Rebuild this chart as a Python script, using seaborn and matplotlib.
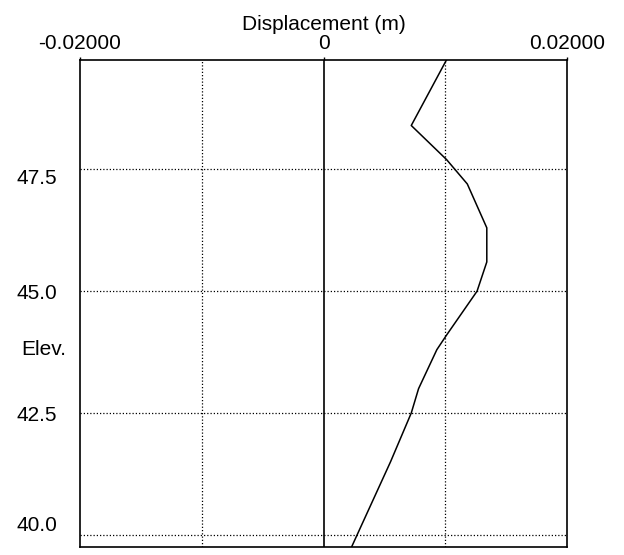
import matplotlib
matplotlib.use("Agg")
import matplotlib.pyplot as plt
import seaborn as sns
import pandas as pd

# displacement profile, top to bottom
elevation = [49.75, 48.4, 47.7, 47.2, 46.3, 45.6, 45.0, 44.1, 43.8, 43.0, 42.5, 41.5, 39.75]
displacement = [0.0101, 0.0072, 0.0101, 0.0118, 0.0134, 0.0134, 0.0126,
                0.0101, 0.0093, 0.0078, 0.0072, 0.0055, 0.0023]

x_ticks = [-0.02, 0.0, 0.02]
x_tick_labels = ["-0.02000", "0", "0.02000"]
x_grid = [-0.01, 0.01]
y_ticks = [40.0, 42.5, 45.0, 47.5]
y_tick_labels = ["40.0", "42.5", "45.0", "47.5"]

sns.set_style("white")
plt.rcParams["font.family"] = ["Liberation Sans", "DejaVu Sans"]
plt.rcParams["text.color"] = "black"
plt.rcParams["axes.labelcolor"] = "black"
font_size = 15

fig = plt.figure(figsize=(6.24, 5.55), dpi=100)
ax = fig.add_axes([0.128, 0.0144, 0.781, 0.878])

df = pd.DataFrame({"Displacement": displacement, "Elev": elevation})
sns.lineplot(data=df, x="Displacement", y="Elev", sort=False, orient="y",
             estimator=None, color="black", linewidth=1.1, ax=ax)

ax.set_xlim(-0.02, 0.02)
ax.set_ylim(39.75, 49.75)

# grid: dotted at +-0.01 and at the y ticks, solid at zero
dots = (0, (1, 1.6))
for gx in x_grid:
    ax.axvline(gx, color="black", linewidth=0.9, linestyle=dots, zorder=1)
for gy in y_ticks:
    ax.axhline(gy, color="black", linewidth=0.9, linestyle=dots, zorder=1)
ax.axvline(0, color="black", linewidth=1.2, zorder=1)

# x axis on top
ax.xaxis.tick_top()
ax.xaxis.set_label_position("top")
ax.set_xticks(x_ticks)
ax.set_xticklabels(x_tick_labels)
ax.set_xlabel("Displacement (m)", fontsize=font_size, labelpad=3)
ax.tick_params(axis="x", direction="out", length=2, width=1, pad=3,
               labelsize=font_size, colors="black")

ax.set_yticks(y_ticks)
ax.set_yticklabels(y_tick_labels)
ax.tick_params(axis="y", direction="out", length=14.5, width=1.2, pad=2,
               labelsize=font_size, colors="black")

# the original program shifts the top label down and the bottom one up
labels = ax.get_yticklabels()
labels[0].set_va("bottom")
labels[-1].set_va("top")

ax.set_ylabel("Elev.", fontsize=font_size, rotation=0, ha="center", va="center")
ax.yaxis.set_label_coords(-0.074, 0.405)

for side in ["left", "right", "top", "bottom"]:
    ax.spines[side].set_color("black")
    ax.spines[side].set_linewidth(1.2)
    ax.spines[side].set_visible(True)

fig.savefig("out.png", dpi=100, facecolor="white")
